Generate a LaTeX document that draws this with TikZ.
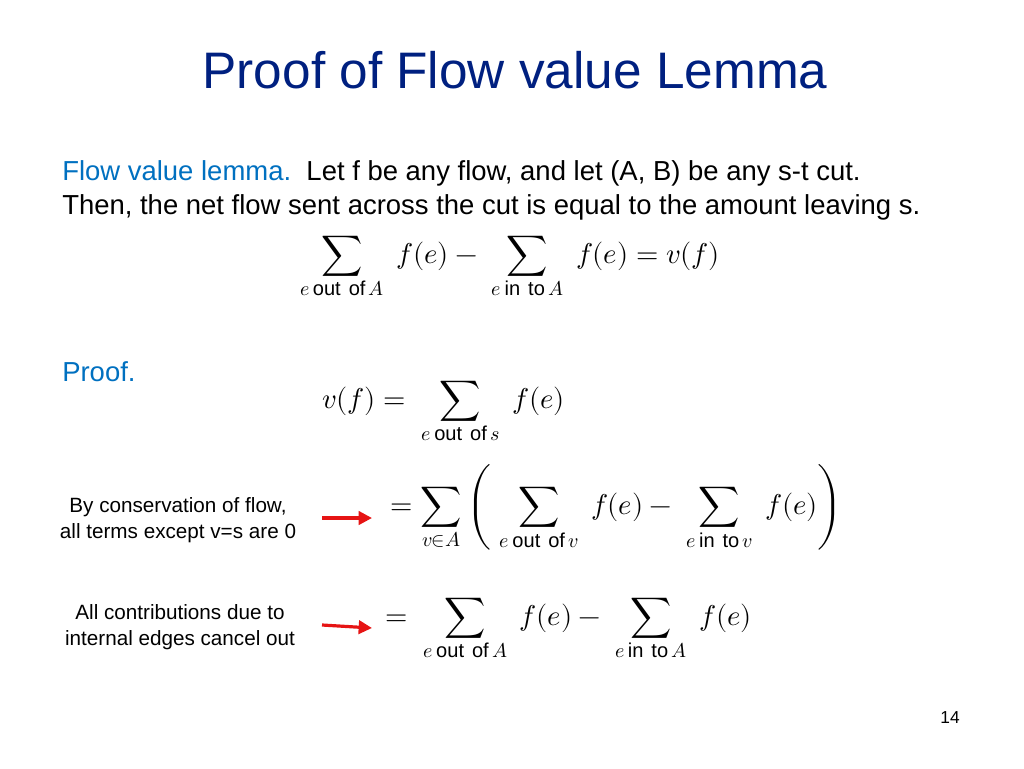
\documentclass[tikz,border=0pt]{standalone}
\usetikzlibrary{arrows.meta}
\usepackage{amsmath}
\usepackage{fontspec}
\setmainfont{Liberation Sans}
\usepackage{unicode-math}
\setmathfont{Latin Modern Math}
\definecolor{titleblue}{RGB}{0,32,128}
\definecolor{lemblue}{RGB}{0,112,192}
\definecolor{arrred}{RGB}{230,20,20}
\begin{document}
\begin{tikzpicture}[x=0.75pt,y=-0.75pt,
  txt/.style={inner sep=0pt,font=\fontsize{20.6}{24}\selectfont},
  side/.style={inner sep=0pt,align=center,font=\fontsize{15.5}{20}\selectfont},
  mth/.style={inner sep=0pt,font=\fontsize{21.5}{26}\selectfont},
  redarrow/.style={arrred,line width=2.4pt,-{Triangle[length=10pt,width=10pt]}}]
\useasboundingbox (0,0) rectangle (1024,768);
\node[inner sep=0pt,text=titleblue,font=\fontsize{38.5}{44}\selectfont] (title) at (515,70) {Proof of Flow value Lemma};
\node[txt,anchor=west] (l1) at (62,173) {\textcolor{lemblue}{Flow value lemma.}\ \ Let f be any flow, and let (A, B) be any s-t cut.};
\node[txt,anchor=west] (l2) at (62,207) {Then, the net flow sent across the cut is equal to the amount leaving s.};
\node[mth] (eq1) at (510,268) {$\displaystyle \sum_{e\,\mathrm{out\ of}\,A}\ f(e)-\ \sum_{e\,\mathrm{in\ to}\,A}\ f(e)=v(f)$};
\node[txt,anchor=west,text=lemblue] (pr) at (62,372) {Proof.};
\node[mth,anchor=west] (eq2) at (322,413) {$\displaystyle v(f)=\ \sum_{e\,\mathrm{out\ of}\,s}\ f(e)$};
\node[mth,anchor=west] (eq3) at (390,508) {$\displaystyle =\sum_{v\in A}\left(\ \sum_{e\,\mathrm{out\ of}\,v}\ f(e)-\ \sum_{e\,\mathrm{in\ to}\,v}\ f(e)\right)$};
\node[mth,anchor=west] (eq4) at (385,630) {$\displaystyle =\ \sum_{e\,\mathrm{out\ of}\,A}\ f(e)-\ \sum_{e\,\mathrm{in\ to}\,A}\ f(e)$};
\node[side] (s1) at (178,520) {By conservation of flow,\\all terms except v=s are 0};
\node[side] (s2) at (180,627) {All contributions due to\\internal edges cancel out};
\coordinate (a1s) at (322,518); \coordinate (a1e) at (372,518);
\coordinate (a2s) at (322,625); \coordinate (a2e) at (372,628);
\draw[redarrow] (a1s) -- (a1e);
\draw[redarrow] (a2s) -- (a2e);
\node[inner sep=0pt,font=\fontsize{13}{16}\selectfont] (pg) at (950,718) {14};
\end{tikzpicture}
\end{document}
